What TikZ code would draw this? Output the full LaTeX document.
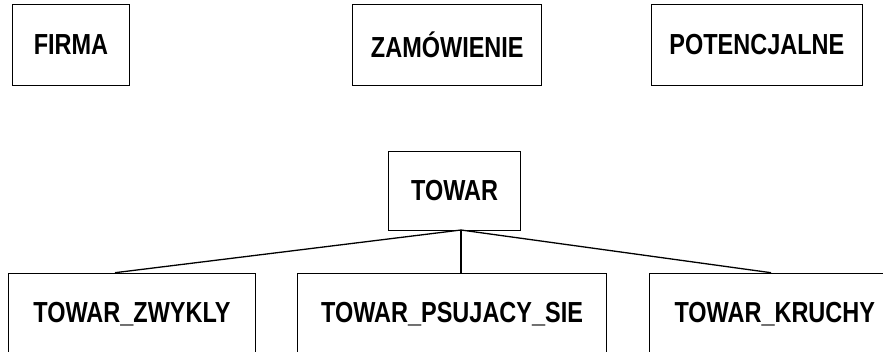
\documentclass[tikz,border=0pt]{standalone}
\usepackage{fontspec}
\setmainfont{Liberation Sans}[FakeStretch=0.81]
\begin{document}
\begin{tikzpicture}[x=1pt,y=-1pt,
  cls/.style={draw=black, line width=1pt, fill=white, inner sep=0pt, anchor=north west,
    font=\fontsize{29}{32}\selectfont\bfseries, text=black},
  conn/.style={draw=black, line width=1.3pt}]
\useasboundingbox (0,0) rectangle (883,351);
\clip (0,0) rectangle (883,351);
\node[cls, minimum width=117pt, minimum height=81pt] (firma) at (12,4) {FIRMA};
\node[cls, minimum width=189pt, minimum height=81pt] (zam) at (352.3,4) {ZAMÓWIENIE};
\node[cls, minimum width=211.3pt, minimum height=81pt] (pot) at (650.7,4) {POTENCJALNE};
\node[cls, minimum width=131.7pt, minimum height=79pt] (towar) at (388.3,151) {TOWAR};
\node[cls, minimum width=246.2pt, minimum height=81pt] (zw) at (8.3,272.7) {TOWAR\_ZWYKLY};
\node[cls, minimum width=309.7pt, minimum height=81pt] (ps) at (296.7,272.7) {TOWAR\_PSUJACY\_SIE};
\node[cls, minimum width=251pt, minimum height=81pt, text width=233pt, align=left] (kr) at (649,272.7) {\hspace*{16pt}TOWAR\_KRUCHY};
\coordinate (root) at (461,230);
\coordinate (zwtop) at (115,272.7);
\coordinate (pstop) at (461,272.7);
\coordinate (krtop) at (771,272.7);
\draw[conn] (root) -- (zwtop);
\draw[conn] (root) -- (pstop);
\draw[conn] (root) -- (krtop);
\end{tikzpicture}
\end{document}
